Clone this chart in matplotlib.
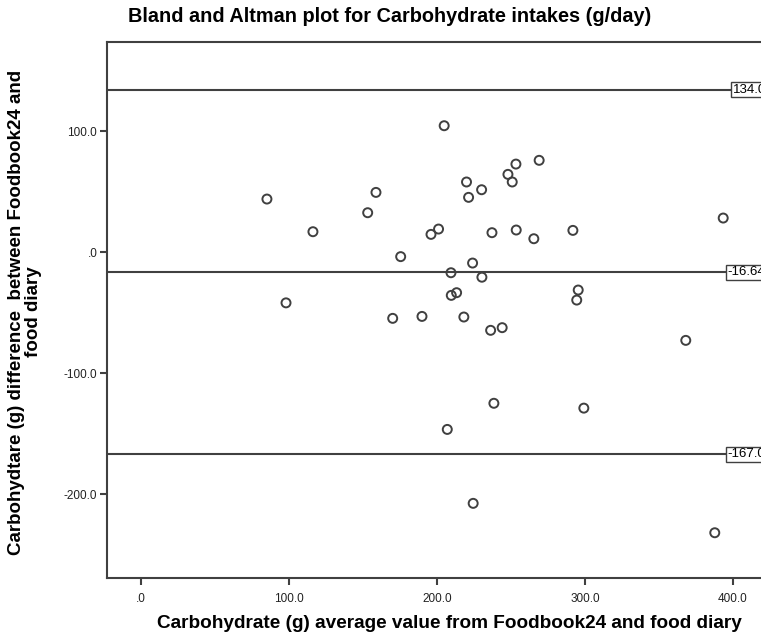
import matplotlib.pyplot as plt

# Bland-Altman data
avg_carb = [
    204.9, 269.1, 253.4, 248.0, 250.9, 220.0, 230.2, 221.4, 158.8, 153.2,
    85.1, 393.5, 116.2, 201.1, 196.0, 237.2, 253.6, 291.9, 265.5, 175.5,
    224.1, 209.5, 230.4, 209.7, 213.3, 98.0, 295.5, 294.5, 170.1, 189.9,
    218.2, 236.3, 244.1, 368.2, 238.5, 299.3, 207.0, 224.5, 387.8,
]
diff_carb = [
    104.4, 75.8, 72.7, 64.2, 57.9, 57.9, 51.5, 45.2, 49.3, 32.5,
    43.8, 28.1, 16.8, 19.0, 14.6, 16.0, 18.2, 17.9, 11.0, -3.8,
    -9.1, -17.1, -20.8, -35.8, -33.6, -42.0, -31.4, -39.7, -54.8, -53.2,
    -53.7, -64.7, -62.5, -73.0, -125.0, -129.0, -146.6, -207.7, -232.0,
]
ref_values = [134.0, -16.64, -167.0]
ref_labels = ["134.0", "-16.64", "-167.0"]
x_ticks = [0, 100, 200, 300, 400]
x_ticklabels = [".0", "100.0", "200.0", "300.0", "400.0"]
y_ticks = [100, 0, -100, -200]
y_ticklabels = ["100.0", ".0", "-100.0", "-200.0"]

plt.rcParams["font.family"] = ["Liberation Sans", "DejaVu Sans"]
line_col = "#404040"

fig = plt.figure(figsize=(7.61, 6.40), dpi=100)
# right edge of the axes sits past the figure, as in the cropped reference
ax = fig.add_axes([107 / 761, 1 - 578 / 640, 685 / 761, 536 / 640])
ax.set_xlim(-23, 440)
ax.set_ylim(-269.4, 173.6)

for v, lab in zip(ref_values, ref_labels):
    ax.axhline(v, color=line_col, linewidth=1.5, zorder=1)
    x_lab = 400 if v > 0 else 396.5
    ax.text(x_lab, v, lab, fontsize=9.5, ha="left", va="center", zorder=3,
            bbox={"boxstyle": "square,pad=0.12", "facecolor": "white",
                  "edgecolor": line_col, "linewidth": 1.0})

ax.scatter(avg_carb, diff_carb, s=42, facecolors="none", edgecolors=line_col,
           linewidths=1.4, zorder=2)

ax.set_xticks(x_ticks)
ax.set_xticklabels(x_ticklabels)
ax.set_yticks(y_ticks)
ax.set_yticklabels(y_ticklabels)
ax.tick_params(direction="out", length=5, width=1.5, color=line_col,
               labelsize=8.5, labelcolor="#222222", pad=6)
ax.tick_params(axis="y", pad=2)
for s in ax.spines.values():
    s.set_color(line_col)
    s.set_linewidth(1.5)

fig.text(390 / 761, 1 - 17 / 640, "Bland and Altman plot for Carbohydrate intakes (g/day)",
         ha="center", va="center", fontsize=14.3, fontweight="bold")
fig.text(449 / 761, 1 - 624 / 640,
         "Carbohydrate (g) average value from Foodbook24 and food diary",
         ha="center", va="center", fontsize=13.7, fontweight="bold")
fig.text(25 / 761, 1 - 312 / 640,
         "Carbohydtare (g) difference  between Foodbook24 and\nfood diary",
         ha="center", va="center", rotation=90, fontsize=13.5,
         fontweight="bold", linespacing=1.0)

fig.savefig("out.png", dpi=100)
